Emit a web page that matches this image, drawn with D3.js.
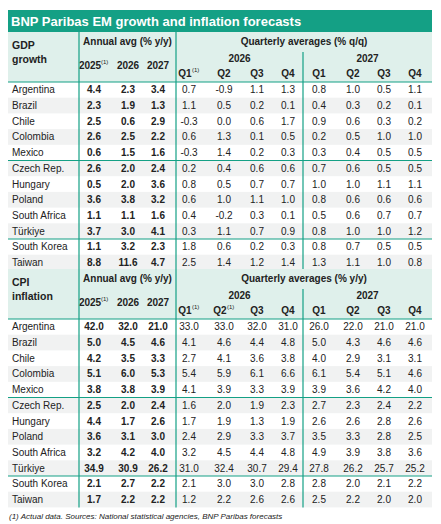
<!DOCTYPE html>
<html><head><meta charset="utf-8">
<script src="https://cdn.jsdelivr.net/npm/d3@7"></script>
<style>body{margin:0;background:#fff}text{font-family:Arial,"Liberation Sans",sans-serif}</style>
</head><body><svg id="c" width="441" height="524"></svg>
<script>
const countries = ['Argentina','Brazil','Chile','Colombia','Mexico','Czech Rep.','Hungary','Poland','South Africa','Türkiye','South Korea','Taiwan'];
const gdpAnnual = [[4.4,2.3,3.4],[2.3,1.9,1.3],[2.5,0.6,2.9],[2.6,2.5,2.2],[0.6,1.5,1.6],[2.6,2.0,2.4],[0.5,2.0,3.6],[3.6,3.8,3.2],[1.1,1.1,1.6],[3.7,3.0,4.1],[1.1,3.2,2.3],[8.8,11.6,4.7]];
const gdpQuarterly = [
  [0.7,-0.9,1.1,1.3,0.8,1.0,0.5,1.1],[1.1,0.5,0.2,0.1,0.4,0.3,0.2,0.1],[-0.3,0.0,0.6,1.7,0.9,0.6,0.3,0.2],
  [0.6,1.3,0.1,0.5,0.2,0.5,1.0,1.0],[-0.3,1.4,0.2,0.3,0.3,0.4,0.5,0.5],[0.2,0.4,0.6,0.6,0.7,0.6,0.5,0.5],
  [0.8,0.5,0.7,0.7,1.0,1.0,1.1,1.1],[0.6,1.0,1.1,1.0,0.8,0.6,0.6,0.6],[0.4,-0.2,0.3,0.1,0.5,0.6,0.7,0.7],
  [0.3,1.1,0.7,0.9,0.8,1.0,1.0,1.2],[1.8,0.6,0.2,0.3,0.8,0.7,0.5,0.5],[2.5,1.4,1.2,1.4,1.3,1.1,1.0,0.8]];
const cpiAnnual = [[42.0,32.0,21.0],[5.0,4.5,4.6],[4.2,3.5,3.3],[5.1,6.0,5.3],[3.8,3.8,3.9],[2.5,2.0,2.4],[4.4,1.7,2.6],[3.6,3.1,3.0],[3.2,4.2,4.0],[34.9,30.9,26.2],[2.1,2.7,2.2],[1.7,2.2,2.2]];
const cpiQuarterly = [
  [33.0,33.0,32.0,31.0,26.0,22.0,21.0,21.0],[4.1,4.6,4.4,4.8,5.0,4.3,4.6,4.6],[2.7,4.1,3.6,3.8,4.0,2.9,3.1,3.1],
  [5.4,5.9,6.1,6.6,6.1,5.4,5.1,4.6],[4.1,3.9,3.3,3.9,3.9,3.6,4.2,4.0],[1.6,2.0,1.9,2.3,2.7,2.3,2.4,2.2],
  [1.7,1.9,1.3,1.9,2.6,2.6,2.8,2.6],[2.4,2.9,3.3,3.7,3.5,3.3,2.8,2.5],[3.2,4.5,4.4,4.8,4.9,3.9,3.8,3.6],
  [31.0,32.4,30.7,29.4,27.8,26.2,25.7,25.2],[2.1,3.0,3.0,2.8,2.8,2.0,2.1,2.2],[1.2,2.2,2.6,2.6,2.5,2.2,2.0,2.0]];
const annualLabels = ['2025','2026','2027'];
const quarterLabels = ['Q1','Q2','Q3','Q4','Q1','Q2','Q3','Q4'];
const yearLabels = ['2026','2027'];

const svg = d3.select('#c');
const teal = '#14a085', light = '#dff0eb', stripe = '#f1f2f2';
const L = 8, R = 432, v1 = 79, v2 = 176, v3 = 303;
const colX = [94,128,158,189,224,257,288,319,353,384,415];
const fmtV = v => d3.format('.1f')(v).replace('−0.0','0.0').replace('−','-');

svg.append('rect').attr('x',L).attr('y',10).attr('width',R-L).attr('height',22).attr('fill',teal);
svg.append('text').attr('x',11).attr('y',26).attr('fill','#fff').attr('font-size',13).attr('font-weight','bold')
  .text('BNP Paribas EM growth and inflation forecasts');

function block(top, title, qTitle, supQ2, annual, quarterly) {
  const hh = 50, rowH = 15.7;
  svg.append('rect').attr('x',L).attr('y',top).attr('width',R-L).attr('height',hh).attr('fill',light);
  const y = d3.scaleBand().domain(d3.range(countries.length)).range([top+hh, top+hh+rowH*countries.length]);
  const g = svg.append('g');
  g.selectAll('rect.s').data(d3.range(countries.length).filter(i => i%2===1)).join('rect')
    .attr('x',L).attr('width',R-L).attr('y',i=>y(i)).attr('height',y.bandwidth()).attr('fill',stripe);
  const t = (x,yy,s,o={}) => svg.append('text').attr('x',x).attr('y',yy).attr('font-size',o.fs||10)
    .attr('font-weight',o.b?'bold':null).attr('text-anchor',o.a||'middle').attr('fill','#222').text(s);
  title.forEach((s,i)=>t(12,top+17+i*14,s,{b:1,a:'start',fs:10.5}));
  t((v1+v2)/2,top+13,'Annual avg (% y/y)',{b:1});
  t((v2+R)/2,top+13,qTitle,{b:1});
  t((v2+v3)/2,top+30,yearLabels[0],{b:1}); t((v3+R)/2,top+30,yearLabels[1],{b:1});
  annualLabels.forEach((s,i)=>{
    const e=t(colX[i],top+37,s,{b:1});
    if(i===0){e.attr('dx',-4);svg.append('text').attr('x',colX[i]+7).attr('y',top+32).attr('font-size',6).attr('fill','#222').text('(1)');}
  });
  quarterLabels.forEach((s,i)=>{
    const sup = i===0 || (supQ2 && i===1);
    const e=t(colX[i+3],top+45,s,{b:1});
    if(sup){e.attr('dx',-4);svg.append('text').attr('x',colX[i+3]+3).attr('y',top+40).attr('font-size',6).attr('fill','#222').text('(1)');}
  });
  countries.forEach((c,r)=>{
    const yy = y(r)+y.bandwidth()/2+3.5;
    t(12,yy,c,{a:'start'});
    annual[r].forEach((v,j)=>t(colX[j],yy,fmtV(v),{b:1}));
    quarterly[r].forEach((v,j)=>t(colX[j+3],yy,fmtV(v)));
  });
  const ln=(x1,y1,x2,y2)=>svg.append('line').attr('x1',x1).attr('y1',y1).attr('x2',x2).attr('y2',y2).attr('stroke',teal).attr('stroke-width',1.2);
  [0,5,10].forEach(i=>ln(L,y(i),R,y(i)));
  const bot = y.range()[1];
  ln(v1,top,v1,bot); ln(v2,top,v2,bot); ln(v3,top+20,v3,bot);
  return bot;
}
block(32,['GDP','growth'],'Quarterly averages (% q/q)',false,gdpAnnual,gdpQuarterly);
const b = block(269,['CPI','inflation'],'Quarterly averages (% y/y)',true,cpiAnnual,cpiQuarterly);
svg.append('text').attr('x',9).attr('y',b+12).attr('font-size',8).attr('font-style','italic').attr('fill','#222')
  .text('(1) Actual data. Sources: National statistical agencies, BNP Paribas forecasts');
</script></body></html>
